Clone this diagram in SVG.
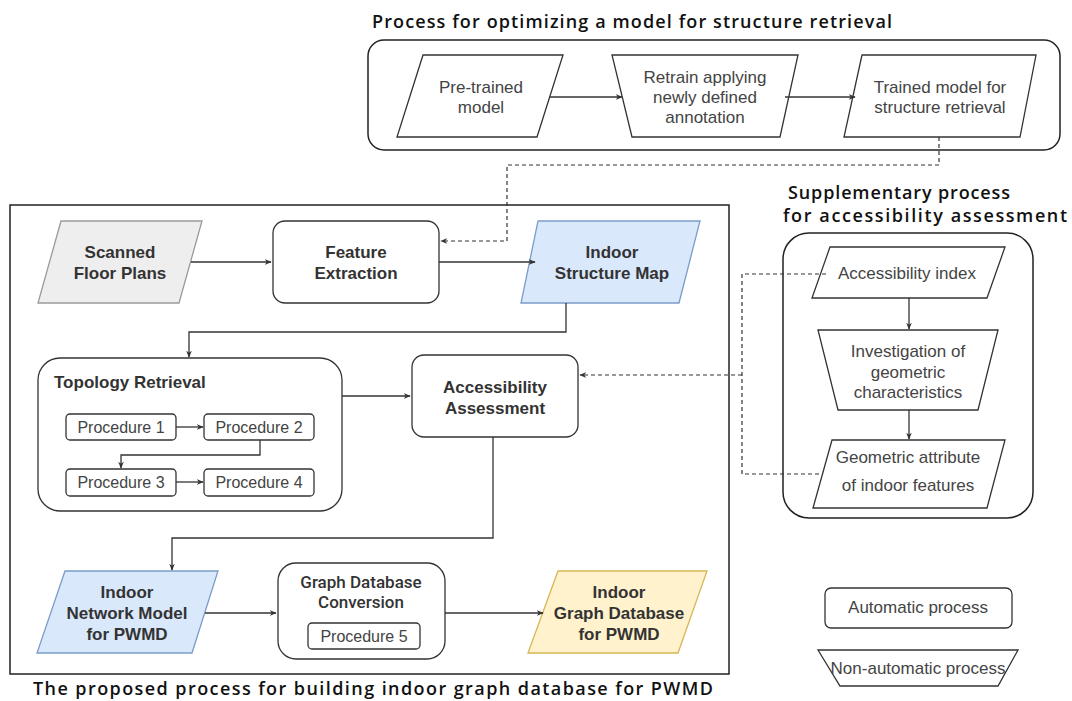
<svg xmlns="http://www.w3.org/2000/svg" width="1072" height="701" viewBox="0 0 1072 701">
  <style>
    .title { font-family: "Open Sans", "DejaVu Sans", sans-serif; font-weight: 600; font-size: 18px; fill: #111; }
    .lbl { font-family: "Liberation Sans", Arial, sans-serif; font-size: 17px; fill: #444; text-anchor: middle; }
    .plbl { font-family: "Liberation Sans", Arial, sans-serif; font-size: 16px; fill: #444; text-anchor: middle; }
    .blbl { font-family: "Liberation Sans", Arial, sans-serif; font-weight: bold; font-size: 17px; fill: #333; text-anchor: middle; }
    .blbl-left { font-family: "Liberation Sans", Arial, sans-serif; font-weight: bold; font-size: 17px; fill: #333; text-anchor: start; }
    .mlbl { font-family: "Roboto", "Liberation Sans", sans-serif; font-weight: 500; font-size: 17px; fill: #333; text-anchor: middle; }
    .frame { fill: #fff; stroke: #222; stroke-width: 1.5; }
    .node { fill: #fff; stroke: #333; stroke-width: 1.3; }
    .gray { fill: #eeeeee; stroke: #9a9a9a; stroke-width: 1.3; }
    .blue { fill: #dae8fc; stroke: #7c9cc8; stroke-width: 1.3; }
    .yellow { fill: #fff2cc; stroke: #d6b656; stroke-width: 1.3; }
    .edge { fill: none; stroke: #333; stroke-width: 1.3; }
    .dash { fill: none; stroke: #333; stroke-width: 1.2; stroke-dasharray: 4 3; }
  </style>
  <defs>
    <marker id="arr" viewBox="0 0 10 10" refX="9" refY="5" markerWidth="7" markerHeight="7" orient="auto" markerUnits="userSpaceOnUse">
      <path d="M0,1 L10,5 L0,9 L3,5 Z" fill="#333"/>
    </marker>
  </defs>

  <!-- upper process: model optimisation -->
  <g id="model-optimization">
    <text class="title" x="372" y="28" textLength="520">Process for optimizing a model for structure retrieval</text>
    <rect class="frame" x="368" y="40" width="692" height="110" rx="16"/>
  </g>
  <g id="pretrained">
    <polygon class="node" points="423,55 563,55 537,137 397,137"/>
    <text class="lbl" x="481" y="93">Pre-trained</text>
    <text class="lbl" x="481" y="113">model</text>
  </g>
  <g id="retrain">
    <polygon class="node" points="612,55 798,55 780,137 632,137"/>
    <text class="lbl" x="705" y="83">Retrain applying</text>
    <text class="lbl" x="705" y="103">newly defined</text>
    <text class="lbl" x="705" y="123">annotation</text>
  </g>
  <g id="trained">
    <polygon class="node" points="862,55 1036,55 1020,137 844,137"/>
    <text class="lbl" x="940" y="93">Trained model for</text>
    <text class="lbl" x="940" y="113">structure retrieval</text>
  </g>

  <!-- main process frame -->
  <g id="main-process">
    <rect class="frame" x="10" y="205" width="719" height="469"/>
    <text class="title" x="33" y="695" font-size="19" textLength="680">The proposed process for building indoor graph database for PWMD</text>
  </g>
  <g id="scanned">
    <polygon class="gray" points="61,221 202,221 179,303 38,303"/>
    <text class="blbl" x="120" y="258">Scanned</text>
    <text class="blbl" x="120" y="279">Floor Plans</text>
  </g>
  <g id="feature-extraction">
    <rect class="node" x="273" y="221" width="166" height="82" rx="12"/>
    <text class="blbl" x="356" y="258">Feature</text>
    <text class="blbl" x="356" y="279">Extraction</text>
  </g>
  <g id="structure-map">
    <polygon class="blue" points="538,221 700,221 679,303 521,303"/>
    <text class="blbl" x="612" y="258">Indoor</text>
    <text class="blbl" x="612" y="279">Structure Map</text>
  </g>
  <g id="topology">
    <rect class="node" x="38" y="358" width="304" height="153" rx="22"/>
    <text class="blbl-left" x="54" y="388">Topology Retrieval</text>
  </g>
  <g id="procedure-1">
    <rect class="node" x="66" y="414" width="110" height="26" rx="4"/>
    <text class="plbl" x="121" y="433">Procedure 1</text>
  </g>
  <g id="procedure-2">
    <rect class="node" x="204" y="414" width="110" height="26" rx="4"/>
    <text class="plbl" x="259" y="433">Procedure 2</text>
  </g>
  <g id="procedure-3">
    <rect class="node" x="66" y="469" width="110" height="27" rx="4"/>
    <text class="plbl" x="121" y="488">Procedure 3</text>
  </g>
  <g id="procedure-4">
    <rect class="node" x="204" y="469" width="110" height="27" rx="4"/>
    <text class="plbl" x="259" y="488">Procedure 4</text>
  </g>
  <g id="accessibility-assessment">
    <rect class="node" x="412" y="355" width="166" height="82" rx="12"/>
    <text class="blbl" x="495" y="393">Accessibility</text>
    <text class="blbl" x="495" y="414">Assessment</text>
  </g>
  <g id="network-model">
    <polygon class="blue" points="65,571 218,571 192,653 37,653"/>
    <text class="blbl" x="127" y="598">Indoor</text>
    <text class="blbl" x="127" y="619">Network Model</text>
    <text class="blbl" x="127" y="640">for PWMD</text>
  </g>
  <g id="graph-conversion">
    <rect class="node" x="278" y="563" width="167" height="96" rx="18"/>
    <text class="mlbl" x="361" y="588">Graph Database</text>
    <text class="mlbl" x="361" y="608">Conversion</text>
    <rect class="node" x="308" y="623" width="112" height="26" rx="4"/>
    <text class="plbl" x="364" y="642">Procedure 5</text>
  </g>
  <g id="graph-database">
    <polygon class="yellow" points="558,571 707,571 678,653 528,653"/>
    <text class="blbl" x="619" y="598">Indoor</text>
    <text class="blbl" x="619" y="619">Graph Database</text>
    <text class="blbl" x="619" y="640">for PWMD</text>
  </g>

  <!-- supplementary process -->
  <g id="supplementary">
    <text class="title" x="788" y="199" textLength="222">Supplementary process</text>
    <text class="title" x="783" y="222" textLength="284">for accessibility assessment</text>
    <rect class="frame" x="783" y="233" width="250" height="285" rx="26"/>
  </g>
  <g id="accessibility-index">
    <polygon class="node" points="830,247 1005,247 987,298 812,298"/>
    <text class="lbl" x="907" y="279">Accessibility index</text>
  </g>
  <g id="investigation">
    <polygon class="node" points="818,330 998,330 978,410 838,410"/>
    <text class="lbl" x="908" y="357">Investigation of</text>
    <text class="lbl" x="908" y="378">geometric</text>
    <text class="lbl" x="908" y="398">characteristics</text>
  </g>
  <g id="geometric-attribute">
    <polygon class="node" points="832,440 1005,440 987,508 813,508"/>
    <text class="lbl" x="908" y="463">Geometric attribute</text>
    <text class="lbl" x="908" y="491">of indoor features</text>
  </g>

  <!-- legend -->
  <g id="legend-automatic">
    <rect class="node" x="825" y="588" width="187" height="40" rx="6"/>
    <text class="lbl" x="918" y="613" font-size="15.5">Automatic process</text>
  </g>
  <g id="legend-manual">
    <polygon class="node" points="818,650 1018,650 998,686 840,686"/>
    <text class="lbl" x="918" y="674" font-size="15.5">Non-automatic process</text>
  </g>

  <!-- connectors -->
  <g id="connectors">
    <path class="edge" d="M550,97 H622" marker-end="url(#arr)"/>
    <path class="edge" d="M785,97 H855" marker-end="url(#arr)"/>
    <path class="dash" d="M939,137 V165 H507 V241 H441" marker-end="url(#arr)"/>
    <path class="edge" d="M191,262 H271" marker-end="url(#arr)"/>
    <path class="edge" d="M439,262 H535" marker-end="url(#arr)"/>
    <path class="edge" d="M566,303 V332 H189 V357" marker-end="url(#arr)"/>
    <path class="edge" d="M176,427 H203" marker-end="url(#arr)"/>
    <path class="edge" d="M260,440 V455 H121 V468" marker-end="url(#arr)"/>
    <path class="edge" d="M176,482 H203" marker-end="url(#arr)"/>
    <path class="edge" d="M342,396 H410" marker-end="url(#arr)"/>
    <path class="edge" d="M493,437 V538 H172 V570" marker-end="url(#arr)"/>
    <path class="edge" d="M205,613 H276" marker-end="url(#arr)"/>
    <path class="edge" d="M445,613 H543" marker-end="url(#arr)"/>
    <path class="dash" d="M826,274 H742 V474 H822"/>
    <path class="dash" d="M742,375 H580" marker-end="url(#arr)"/>
    <path class="edge" d="M909,298 V329" marker-end="url(#arr)"/>
    <path class="edge" d="M909,410 V439" marker-end="url(#arr)"/>
  </g>
</svg>
